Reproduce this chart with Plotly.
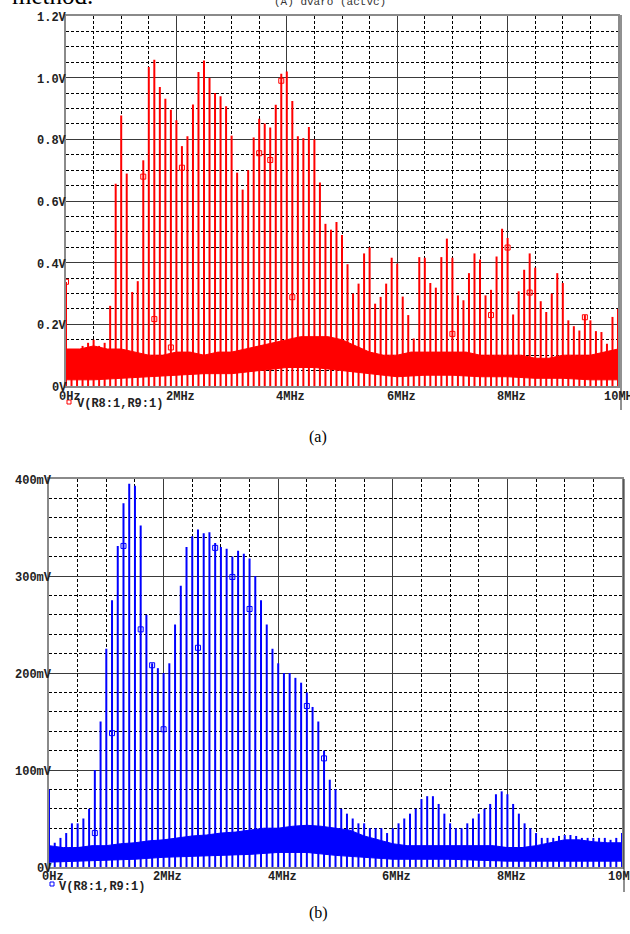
import plotly.graph_objects as go

W, H = 630, 934

# ---------------- data ----------------
HARMONIC_MHZ = [i / 10 for i in range(101)]

# panel (a) spike peaks, volts, at 0.0,0.1,...,10.0 MHz
PEAK_A = [0.337, 0.10, 0.12, 0.13, 0.14, 0.15, 0.13, 0.14, 0.26, 0.656,
          0.877, 0.689, 0.305, 0.34, 0.732, 1.035, 1.058, 0.97, 0.932, 0.896,
          0.862, 0.778, 0.81, 0.913, 1.018, 1.056, 0.999, 0.95, 0.94, 0.907,
          0.812, 0.692, 0.637, 0.70, 0.806, 0.867, 0.851, 0.838, 0.912, 1.013,
          1.02, 0.924, 0.81, 0.804, 0.84, 0.80, 0.66, 0.526, 0.507, 0.532,
          0.49, 0.395, 0.30, 0.332, 0.43, 0.45, 0.267, 0.289, 0.332, 0.416,
          0.397, 0.29, 0.23, 0.154, 0.418, 0.416, 0.334, 0.319, 0.418, 0.478,
          0.416, 0.294, 0.278, 0.366, 0.43, 0.41, 0.294, 0.312, 0.42, 0.51,
          0.48, 0.232, 0.307, 0.377, 0.43, 0.384, 0.275, 0.24, 0.30, 0.366,
          0.334, 0.213, 0.194, 0.18, 0.23, 0.213, 0.178, 0.175, 0.137, 0.224,
          0.25]

# panel (b) spike peaks, millivolts
PEAK_B = [80, 25, 30, 35, 45, 45, 50, 60, 100, 150,
          225, 275, 331, 375, 395, 393, 352, 260, 210, 205,
          200, 210, 250, 290, 330, 341, 348, 344, 345, 334,
          330, 328, 320, 326, 323, 318, 300, 275, 250, 225,
          210, 200, 200, 195, 190, 180, 165, 150, 120, 90,
          80, 60, 55, 50, 45, 45, 40, 40, 40, 35,
          40, 45, 50, 55, 60, 70, 73, 73, 65, 55,
          45, 40, 40, 45, 50, 55, 60, 65, 75, 78,
          75, 65, 55, 45, 40, 35, 30, 30, 30, 32,
          33, 33, 32, 30, 30, 30, 30, 30, 28, 30,
          35]

# noise floor envelopes
NOISE_X_HI = [i / 4 for i in range(41)]
NOISE_A_HI = [0.12, 0.12, 0.13, 0.12, 0.12, 0.11, 0.10, 0.10, 0.11, 0.11,
              0.10, 0.11, 0.11, 0.12, 0.13, 0.14, 0.15, 0.16, 0.16, 0.16,
              0.15, 0.13, 0.11, 0.10, 0.10, 0.11, 0.11, 0.11, 0.11, 0.11,
              0.10, 0.10, 0.10, 0.10, 0.09, 0.09, 0.10, 0.10, 0.10, 0.11, 0.12]
NOISE_B_HI = [22, 20, 20, 22, 22, 24, 25, 27, 28, 30,
              32, 33, 35, 36, 38, 40, 40, 42, 43, 42,
              40, 38, 32, 28, 24, 22, 22, 22, 22, 22,
              22, 22, 20, 20, 22, 25, 28, 28, 26, 25, 25]
NOISE_X_LO = [i / 2 for i in range(21)]
NOISE_A_LO = [0.02, 0.02, 0.025, 0.03, 0.035, 0.04, 0.04, 0.05, 0.06, 0.06,
              0.05, 0.04, 0.03, 0.035, 0.035, 0.03, 0.03, 0.025, 0.025, 0.02, 0.02]
NOISE_B_LO = [5, 6, 7, 8, 10, 11, 12, 13, 15, 15,
              12, 10, 8, 8, 8, 7, 6, 6, 6, 6, 6]

# PSpice symbol markers on the trace
MARK_A_X = [0.0, 1.4, 1.6, 1.9, 2.1, 3.5, 3.7, 3.9, 4.1, 7.0, 7.7, 8.0, 8.4, 9.4]
MARK_A_Y = [0.338, 0.679, 0.217, 0.125, 0.708, 0.755, 0.733, 0.99, 0.288, 0.169, 0.23, 0.449, 0.303, 0.223]
MARK_B_X = [0.8, 1.1, 1.3, 1.6, 1.8, 2.0, 2.6, 2.9, 3.2, 3.5, 4.5, 4.8]
MARK_B_Y = [35, 138, 331, 245, 208, 142, 226, 329, 299, 266, 166, 112]

A_YTICKS = [0, 0.2, 0.4, 0.6, 0.8, 1.0, 1.2]
A_YTEXT = ["0V", "0.2V", "0.4V", "0.6V", "0.8V", "1.0V", "1.2V"]
B_YTICKS = [0, 100, 200, 300, 400]
B_YTEXT = ["0V", "100mV", "200mV", "300mV", "400mV"]
XTICKS = [0, 2, 4, 6, 8, 10]
XTEXT = ["0Hz", "2MHz", "4MHz", "6MHz", "8MHz", "10MHz"]
LEGEND = "V(R8:1,R9:1)"


def px(x):
    return x / W


def py(y):
    return 1 - y / H


def spikes(xs, ys):
    sx, sy = [], []
    for x, y in zip(xs, ys):
        sx += [x, x, None]
        sy += [0, y, None]
    return sx, sy


fig = go.Figure()

panels = [
    dict(xa="x", ya="y", color="#ff0000", peaks=PEAK_A, hi=NOISE_A_HI, lo=NOISE_A_LO,
         mx=MARK_A_X, my=MARK_A_Y),
    dict(xa="x2", ya="y2", color="#0000ff", peaks=PEAK_B, hi=NOISE_B_HI, lo=NOISE_B_LO,
         mx=MARK_B_X, my=MARK_B_Y),
]
for p in panels:
    bx = NOISE_X_HI + NOISE_X_LO[::-1]
    by = p["hi"] + p["lo"][::-1]
    fig.add_trace(go.Scatter(x=bx, y=by, xaxis=p["xa"], yaxis=p["ya"], mode="lines",
                             fill="toself", fillcolor=p["color"],
                             line=dict(color=p["color"], width=1), hoverinfo="skip"))
    sx, sy = spikes(HARMONIC_MHZ, p["peaks"])
    fig.add_trace(go.Scatter(x=sx, y=sy, xaxis=p["xa"], yaxis=p["ya"], mode="lines",
                             line=dict(color=p["color"], width=2)))
    fig.add_trace(go.Scatter(x=p["mx"], y=p["my"], xaxis=p["xa"], yaxis=p["ya"], mode="markers",
                             marker=dict(symbol="square-open", size=5, color=p["color"],
                                         line=dict(width=1, color=p["color"]))))

grid_major = "#3a3a3a"
frame = "#8a8a8a"
common_ax = dict(showline=True, mirror=True, linecolor=frame, linewidth=2,
                 showgrid=True, gridcolor=grid_major, gridwidth=1,
                 showticklabels=False, ticks="", zeroline=False, fixedrange=True)

fig.update_layout(
    width=W, height=H, margin=dict(l=0, r=0, t=0, b=0),
    paper_bgcolor="white", plot_bgcolor="white", showlegend=False,
    xaxis=dict(domain=[px(66), px(618)], range=[0, 10], dtick=2, anchor="y",
               minor=dict(dtick=0.5, showgrid=True, gridcolor="#000000", griddash="3px,2px", gridwidth=1),
               **common_ax),
    yaxis=dict(domain=[py(386), py(16)], range=[0, 1.2], dtick=0.2, anchor="x",
               minor=dict(dtick=0.05, showgrid=True, gridcolor="#000000", griddash="3px,2px", gridwidth=1),
               **common_ax),
    xaxis2=dict(domain=[px(49), px(622)], range=[0, 10], dtick=2, anchor="y2",
                minor=dict(dtick=0.5, showgrid=True, gridcolor="#000000", griddash="3px,2px", gridwidth=1),
                **common_ax),
    yaxis2=dict(domain=[py(867), py(479)], range=[0, 400], dtick=100, anchor="x2",
                minor=dict(dtick=20, showgrid=True, gridcolor="#000000", griddash="3px,2px", gridwidth=1),
                **common_ax),
)

mono = dict(family="Liberation Mono", size=12, color="#222222")
ann = []
for v, t in zip(A_YTICKS, A_YTEXT):
    ann.append(dict(x=0, y=v, xref="x", yref="y", text="<b>%s</b>" % t, showarrow=False,
                    xanchor="right", yanchor="middle", xshift=3, yshift=-2, font=mono))
for v, t in zip(B_YTICKS, B_YTEXT):
    ann.append(dict(x=0, y=v, xref="x2", yref="y2", text="<b>%s</b>" % t, showarrow=False,
                    xanchor="right", yanchor="middle", xshift=5, yshift=-2, font=mono))
for v, t in zip(XTICKS, XTEXT):
    ann.append(dict(x=v, y=0, xref="x", yref="y", text="<b>%s</b>" % t, showarrow=False,
                    xanchor="center", yanchor="middle", xshift=4, yshift=-11, font=mono))
    ann.append(dict(x=v, y=0, xref="x2", yref="y2", text="<b>%s</b>" % t, showarrow=False,
                    xanchor="center", yanchor="middle", xshift=4, yshift=-10, font=mono))

ann.append(dict(x=px(75), y=py(404), xref="paper", yref="paper", text="<b>%s</b>" % LEGEND,
                showarrow=False, xanchor="left", yanchor="middle", font=mono))
ann.append(dict(x=px(57), y=py(887), xref="paper", yref="paper", text="<b>%s</b>" % LEGEND,
                showarrow=False, xanchor="left", yanchor="middle", font=mono))

serif = dict(family="Liberation Serif", size=16, color="black")
ann.append(dict(x=px(318), y=py(437), xref="paper", yref="paper", text="(a)", showarrow=False,
                xanchor="center", yanchor="middle", font=serif))
ann.append(dict(x=px(318), y=py(913), xref="paper", yref="paper", text="(b)", showarrow=False,
                xanchor="center", yanchor="middle", font=serif))
ann.append(dict(x=px(10), y=py(11), xref="paper", yref="paper", text="method.", showarrow=False,
                xanchor="left", yanchor="bottom", font=dict(family="Liberation Serif", size=25, color="black")))
ann.append(dict(x=px(330), y=py(10), xref="paper", yref="paper", text="(A) dvaro (actvc)", showarrow=False,
                xanchor="center", yanchor="bottom", font=dict(family="Liberation Mono", size=11, color="#333333")))
fig.update_layout(annotations=ann)

shapes = [
    dict(type="rect", xref="paper", yref="paper", x0=px(67), x1=px(71), y0=py(400), y1=py(404),
         line=dict(color="#ff0000", width=1)),
    dict(type="rect", xref="paper", yref="paper", x0=px(50), x1=px(54), y0=py(882), y1=py(886),
         line=dict(color="#0000ff", width=1)),
    dict(type="line", xref="paper", yref="paper", x0=px(621), x1=px(621), y0=py(15), y1=py(410),
         line=dict(color="#222222", width=1)),
    dict(type="line", xref="paper", yref="paper", x0=px(624), x1=px(624), y0=py(479), y1=py(892),
         line=dict(color="#222222", width=1)),
]
fig.update_layout(shapes=shapes)

fig.write_html("out.html", config={"displayModeBar": False},
               post_script="document.body.style.margin='0';document.body.style.overflow='hidden';")
